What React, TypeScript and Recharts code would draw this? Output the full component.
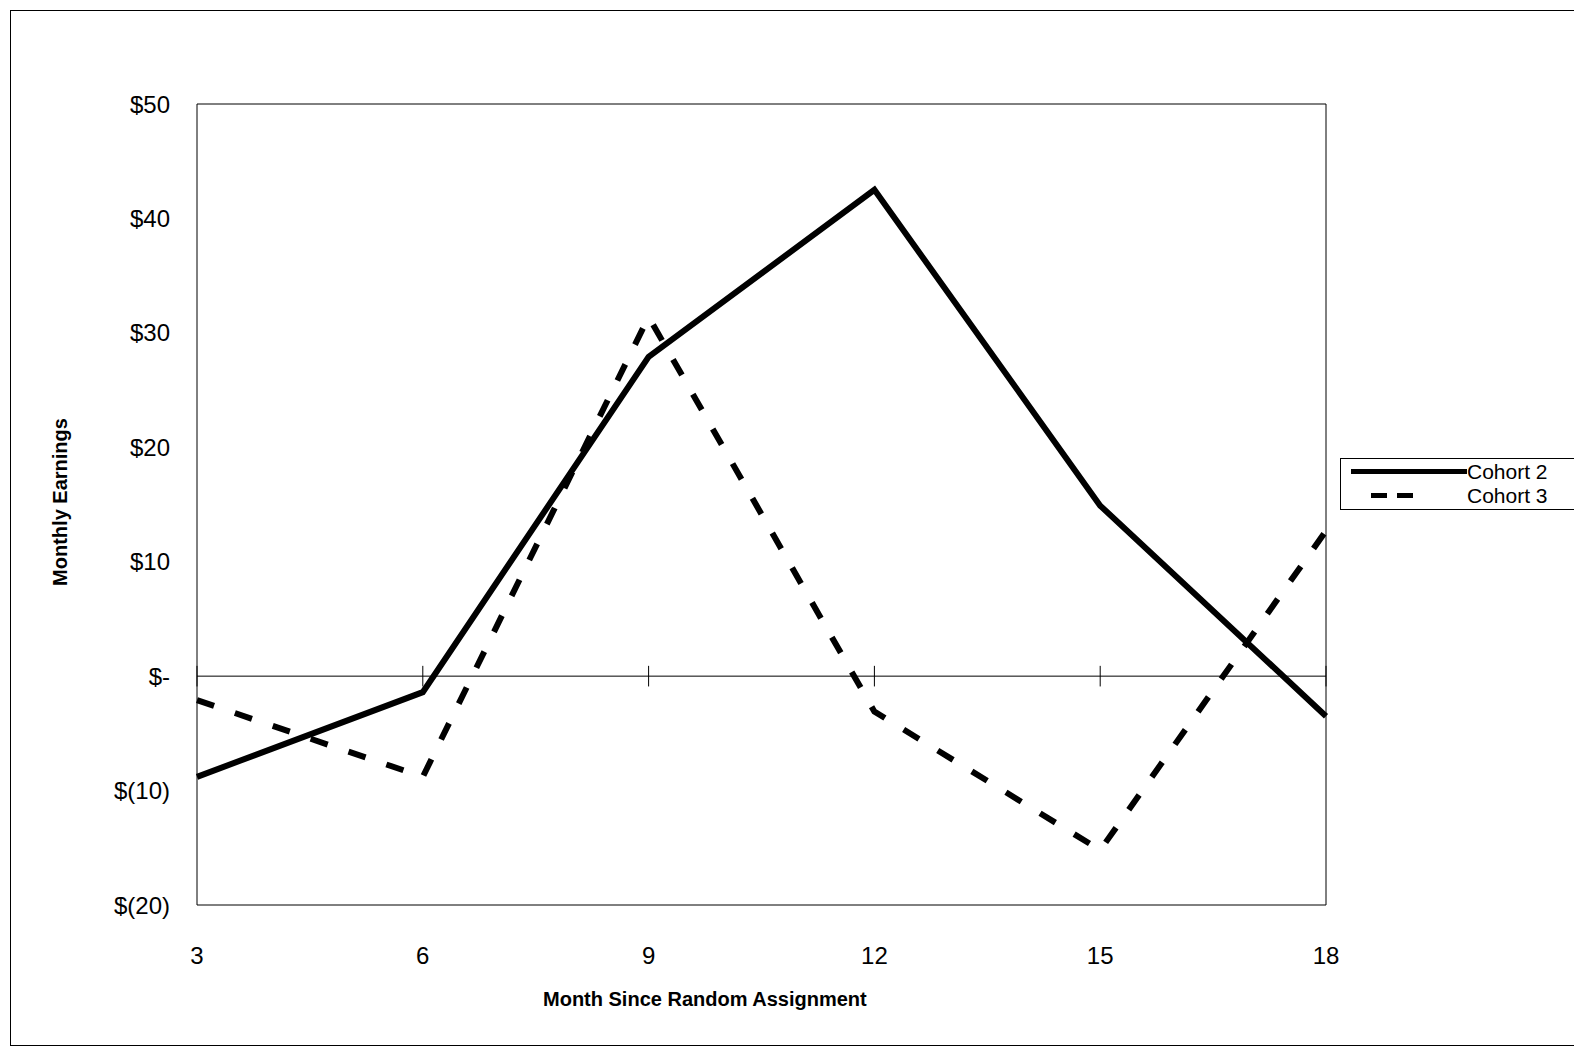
import { LineChart, Line, XAxis, YAxis, ReferenceLine, ReferenceArea } from "recharts";

const months = [3, 6, 9, 12, 15, 18];
const cohort2 = [-8.8, -1.4, 27.9, 42.5, 14.9, -3.5];
const cohort3 = [-2.1, -8.8, 31.4, -3.1, -15.2, 12.7];
const yTicks = [-20, -10, 0, 10, 20, 30, 40, 50];

const data = months.map((m, i) => ({ month: m, c2: cohort2[i], c3: cohort3[i] }));

const fmtY = (v: number) => (v === 0 ? "$-" : v < 0 ? `$(${-v})` : `$${v}`);

const font = "'Liberation Sans', Arial, sans-serif";

export default function App() {
  return (
    <div style={{ position: "relative", width: 1574, height: 1048, fontFamily: font, overflow: "hidden" }}>
      <style>{"body{margin:0}"}</style>
      <div style={{ position: "absolute", left: 10, top: 10, width: 1570, height: 1034, border: "1px solid #000" }} />
      <LineChart width={1574} height={1048} data={data} margin={{ top: 104, right: 248, bottom: 113, left: 105 }}>
        <ReferenceArea x1={3} x2={18} y1={-20} y2={50} fill="none" stroke="#000" strokeWidth={1} ifOverflow="visible" />
        <XAxis
          dataKey="month"
          type="number"
          domain={[3, 18]}
          ticks={months}
          height={30}
          axisLine={false}
          tickLine={false}
          tickMargin={36}
          tick={{ fill: "#000", fontSize: 24, fontFamily: font }}
        />
        <YAxis
          type="number"
          domain={[-20, 50]}
          ticks={yTicks}
          width={92}
          tickFormatter={fmtY}
          axisLine={false}
          tickLine={false}
          tickMargin={21}
          tick={{ fill: "#000", fontSize: 24, fontFamily: font }}
        />
        <ReferenceLine y={0} stroke="#000" strokeWidth={1} />
        {months.map((m) => (
          <ReferenceLine key={m} segment={[{ x: m, y: -0.9 }, { x: m, y: 0.9 }]} stroke="#000" strokeWidth={1} />
        ))}
        <Line dataKey="c2" stroke="#000" strokeWidth={6} dot={false} isAnimationActive={false} />
        <Line dataKey="c3" stroke="#000" strokeWidth={6} strokeDasharray="18 22" dot={false} isAnimationActive={false} />
      </LineChart>
      <div style={{ position: "absolute", left: 543, top: 988, fontSize: 20, fontWeight: "bold", whiteSpace: "nowrap" }}>
        Month Since Random Assignment
      </div>
      <div style={{ position: "absolute", left: 60, top: 502, transform: "translate(-50%,-50%) rotate(-90deg)", fontSize: 20, fontWeight: "bold", whiteSpace: "nowrap" }}>
        Monthly Earnings
      </div>
      <div style={{ position: "absolute", left: 1340, top: 458, width: 260, height: 50, border: "1px solid #000", background: "#fff", fontSize: 21 }}>
        <div style={{ position: "absolute", left: 10, top: 10, width: 116, height: 5, background: "#000" }} />
        <div style={{ position: "absolute", left: 126, top: 1 }}>Cohort 2</div>
        <div style={{ position: "absolute", left: 30, top: 34, width: 42, height: 5, background: "repeating-linear-gradient(90deg,#000 0 16px,transparent 16px 26px)" }} />
        <div style={{ position: "absolute", left: 126, top: 25 }}>Cohort 3</div>
      </div>
    </div>
  );
}
